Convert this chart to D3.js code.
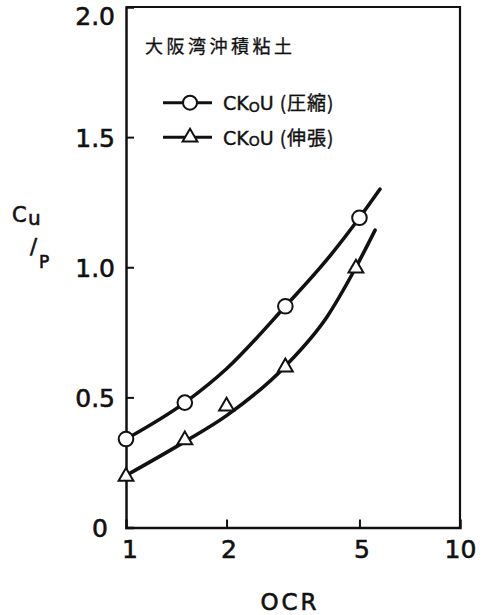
<!DOCTYPE html>
<html>
<head>
<meta charset="utf-8">
<script src="https://cdn.jsdelivr.net/npm/d3@7/dist/d3.min.js"></script>
<style>
  html, body { margin: 0; padding: 0; background: #fff; }
  svg { display: block; }
  text { font-family: "DejaVu Sans", "Noto Sans CJK JP", sans-serif; fill: #111; stroke: #111; stroke-width: 0.6px; }
</style>
</head>
<body>
<svg id="chart" width="485" height="615"></svg>
<script>
// ---- data ----
const title = "大阪湾沖積粘土";
const seriesNames = ["(圧縮)", "(伸張)"];

// measured points: compression (circles)
const compOCR = [1, 1.5, 3, 5];
const compCuP = [0.34, 0.48, 0.85, 1.19];
// measured points: extension (triangles)
const extOCR = [1, 1.5, 2, 3, 4.88];
const extCuP = [0.2, 0.34, 0.47, 0.62, 1.0];

// hand-drawn fitted curves
const compCurveOCR = [1, 1.5, 2, 3, 4, 5, 5.76];
const compCurveCuP = [0.34, 0.48, 0.61, 0.85, 1.03, 1.19, 1.30];
const extCurveOCR = [1, 1.5, 2, 3, 4, 4.88, 5.57];
const extCurveCuP = [0.2, 0.33, 0.43, 0.62, 0.81, 1.0, 1.143];

const xTicks = [1, 2, 5, 10];
const xTickLabels = ["1", "2", "5", "10"];
const yTicks = [0, 0.5, 1.0, 1.5, 2.0];
const yTickLabels = ["0", "0.5", "1.0", "1.5", "2.0"];

// ---- layout ----
const svg = d3.select("#chart");
const x = d3.scaleLog().domain([1, 10]).range([126, 460]);
const y = d3.scaleLinear().domain([0, 2]).range([527.5, 7]);

// frame (top & right)
svg.append("path")
  .attr("d", `M${x(1)},${y(2)}H${x(10)}V${y(0)}`)
  .attr("fill", "none").attr("stroke", "#111").attr("stroke-width", 2.2);

// axes
const yAxis = d3.axisLeft(y).tickValues(yTicks)
  .tickFormat((d, i) => yTickLabels[i]).tickSize(-8).tickPadding(11);
const gy = svg.append("g").attr("transform", `translate(${x(1)},0)`).call(yAxis);
gy.attr("font-family", null).attr("font-size", null);
gy.select(".domain").attr("stroke", "#111").attr("stroke-width", 2.5);
gy.selectAll(".tick line").attr("stroke", "#111").attr("stroke-width", 2)
  .filter(d => d === 0 || d === 2).remove();
gy.selectAll(".tick text")
  .style("font-size", "25px")
  .attr("fill", "#111")
  .attr("dx", d => d === 0 ? -7 : 0)
  .attr("dy", d => d === 2 ? "0.7em" : "0.36em");

const xAxis = d3.axisBottom(x).tickValues(xTicks)
  .tickFormat((d, i) => xTickLabels[i]).tickSize(-8).tickPadding(12.5);
const gx = svg.append("g").attr("transform", `translate(0,${y(0)})`).call(xAxis);
gx.attr("font-family", null).attr("font-size", null);
gx.select(".domain").attr("stroke", "#111").attr("stroke-width", 2.5);
gx.selectAll(".tick line").attr("stroke", "#111").attr("stroke-width", 2)
  .filter(d => d === 1 || d === 10).remove();
gx.selectAll(".tick text")
  .style("font-size", "25px")
  .attr("fill", "#111")
  .attr("dx", d => d === 1 ? 3.5 : (d === 10 ? 0 : 2));

// axis titles
svg.append("text").attr("x", 290).attr("y", 610)
  .attr("text-anchor", "middle")
  .style("font-size", "23px").style("letter-spacing", "3px")
  .text("OCR");

const yl = svg.append("g");
yl.append("text").attr("x", 12).attr("y", 222).style("font-size", "21px").text("C");
yl.append("text").attr("x", 28).attr("y", 225).style("font-size", "20px").text("u");
yl.append("text").attr("x", 30).attr("y", 254).style("font-size", "21px").text("/");
yl.append("text").attr("x", 39).attr("y", 268).style("font-size", "17px").text("P");

// title
svg.append("text").attr("x", 145).attr("y", 53)
  .style("font-family", "'Noto Sans CJK JP', sans-serif")
  .style("font-size", "18px").style("letter-spacing", "3.5px")
  .style("stroke-width", "0.3px")
  .text(title);

// curves
const line = d3.line().x(d => x(d[0])).y(d => y(d[1])).curve(d3.curveMonotoneX);
const compCurve = compCurveOCR.map((v, i) => [v, compCurveCuP[i]]);
const extCurve = extCurveOCR.map((v, i) => [v, extCurveCuP[i]]);
[compCurve, extCurve].forEach(c => {
  svg.append("path").datum(c).attr("d", line)
    .attr("fill", "none").attr("stroke", "#111").attr("stroke-width", 3.6)
    .attr("stroke-linecap", "round");
});

// markers
const tri = d3.symbol().type(d3.symbolTriangle).size(95);
svg.append("g").selectAll("circle").data(compOCR.map((v, i) => [v, compCuP[i]]))
  .join("circle").attr("cx", d => x(d[0])).attr("cy", d => y(d[1])).attr("r", 7.3)
  .attr("fill", "#fff").attr("stroke", "#111").attr("stroke-width", 2);
svg.append("g").selectAll("path").data(extOCR.map((v, i) => [v, extCuP[i]]))
  .join("path").attr("d", tri)
  .attr("transform", d => `translate(${x(d[0])},${y(d[1]) + 1})`)
  .attr("fill", "#fff").attr("stroke", "#111").attr("stroke-width", 2);

// legend
const legRows = [102.7, 137.3];
legRows.forEach((ly, i) => {
  const g = svg.append("g");
  g.append("line").attr("x1", 163).attr("x2", 212).attr("y1", ly).attr("y2", ly)
    .attr("stroke", "#111").attr("stroke-width", 3);
  if (i === 0) {
    g.append("circle").attr("cx", 190).attr("cy", ly).attr("r", 7)
      .attr("fill", "#fff").attr("stroke", "#111").attr("stroke-width", 2);
  } else {
    g.append("path").attr("d", tri).attr("transform", `translate(190,${ly})`)
      .attr("fill", "#fff").attr("stroke", "#111").attr("stroke-width", 2);
  }
  const t = g.append("text").attr("x", 223).attr("y", ly + 7.5)
    .style("font-size", "19px").style("stroke-width", "0.4px");
  t.append("tspan").text("CK");
  t.append("tspan").attr("dy", 1.5).style("font-size", "14px").text("O");
  t.append("tspan").attr("dy", -1.5).text("U");
  t.append("tspan").attr("dx", 6).style("font-family", "'Noto Sans CJK JP', sans-serif")
    .style("font-size", "19px").style("letter-spacing", "1px").text(seriesNames[i]);
});
</script>
</body>
</html>
